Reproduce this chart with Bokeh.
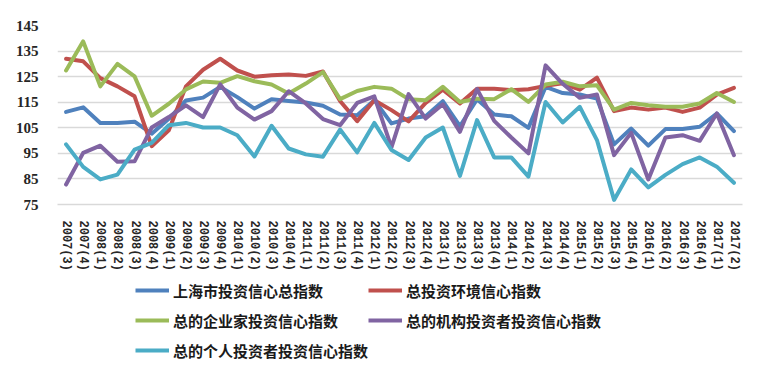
from bokeh.plotting import figure
from bokeh.layouts import column
from bokeh.models import FactorRange, Range1d, FixedTicker, Legend, LegendItem
from bokeh.embed import file_html
from bokeh.resources import INLINE

quarters = ["2007(3)", "2007(4)", "2008(1)", "2008(2)", "2008(3)", "2008(4)",
            "2009(1)", "2009(2)", "2009(3)", "2009(4)", "2010(1)", "2010(2)",
            "2010(3)", "2010(4)", "2011(1)", "2011(2)", "2011(3)", "2011(4)",
            "2012(1)", "2012(2)", "2012(3)", "2012(4)", "2013(1)", "2013(2)",
            "2013(3)", "2013(4)", "2014(1)", "2014(2)", "2014(3)", "2014(4)",
            "2015(1)", "2015(2)", "2015(3)", "2015(4)", "2016(1)", "2016(2)",
            "2016(3)", "2016(4)", "2017(1)", "2017(2)"]

shanghai_total = [111.2, 113.0, 106.9, 106.9, 107.4, 102.7, 108.5, 115.7, 116.8, 121.0,
                  117.0, 112.5, 116.2, 115.5, 114.9, 113.6, 110.2, 109.9, 115.8, 106.7,
                  108.6, 109.5, 115.4, 105.6, 116.2, 110.2, 109.5, 105.0, 121.0, 118.6,
                  118.0, 116.4, 98.5, 104.7, 98.0, 104.5, 104.5, 105.4, 110.6, 103.7]
environment = [132.0, 131.0, 124.4, 121.2, 117.3, 97.8, 104.0, 121.2, 127.7, 132.0,
               127.4, 125.0, 125.5, 125.8, 125.3, 127.0, 115.5, 107.6, 115.8, 111.9,
               107.5, 114.7, 119.9, 114.5, 120.3, 120.3, 119.7, 120.1, 121.4, 122.4,
               119.9, 124.6, 111.5, 112.9, 112.1, 112.9, 111.2, 112.9, 118.0, 120.6]
entrepreneur = [127.4, 138.8, 121.2, 130.0, 125.1, 109.7, 114.4, 120.0, 123.1, 122.6,
                125.2, 123.2, 121.9, 118.4, 122.3, 126.8, 116.2, 119.4, 121.0, 120.3,
                116.2, 115.8, 121.0, 115.1, 116.4, 116.2, 120.1, 115.1, 121.9, 123.0,
                121.2, 121.6, 112.1, 114.7, 113.8, 113.2, 113.2, 114.5, 118.6, 115.1]
institution = [82.8, 95.2, 98.0, 91.7, 91.9, 105.1, 109.2, 113.8, 109.2, 122.0,
               112.9, 108.2, 111.5, 119.3, 114.5, 108.4, 106.0, 114.7, 117.3, 97.3,
               118.2, 108.6, 114.2, 103.4, 120.1, 107.7, 101.2, 95.0, 129.4, 122.2,
               116.7, 118.0, 94.3, 103.0, 84.8, 101.2, 102.1, 99.9, 110.6, 94.3]
individual = [98.5, 89.7, 84.8, 86.7, 96.5, 99.1, 106.0, 106.9, 105.1, 105.1,
              102.1, 93.8, 105.8, 96.9, 94.6, 93.7, 104.3, 95.4, 106.9, 96.3,
              92.4, 101.2, 105.1, 86.2, 108.0, 93.4, 93.4, 85.9, 115.1, 107.1,
              113.2, 100.2, 76.8, 88.7, 81.7, 86.6, 90.8, 93.4, 89.8, 83.5]

names = ["上海市投资信心总指数", "总投资环境信心指数", "总的企业家投资信心指数",
         "总的机构投资者投资信心指数", "总的个人投资者投资信心指数"]
y_ticks = [75, 85, 95, 105, 115, 125, 135, 145]

series = [shanghai_total, environment, entrepreneur, institution, individual]
colors = ["#4F81BD", "#C0504D", "#9BBB59", "#8064A2", "#4BACC6"]

p = figure(x_range=FactorRange(*quarters), y_range=Range1d(75, 145),
           frame_width=685, frame_height=179, width=761, height=270,
           min_border_left=57, min_border_right=19, min_border_top=25, min_border_bottom=0,
           output_backend="svg", toolbar_location=None, outline_line_color=None)

for vals, c in zip(series, colors):
    p.line(quarters, vals, line_color=c, line_width=4, line_join="round", line_cap="round")

p.xgrid.grid_line_color = None
p.ygrid.grid_line_color = "#D9D9D9"
p.ygrid.grid_line_width = 1.5
p.yaxis.ticker = FixedTicker(ticks=y_ticks)
p.yaxis.axis_line_color = None
p.yaxis.major_tick_line_color = None
p.yaxis.minor_tick_line_color = None
p.yaxis.major_label_standoff = 13
p.yaxis.major_label_text_font = "Liberation Serif"
p.yaxis.major_label_text_font_style = "bold"
p.yaxis.major_label_text_font_size = "15px"
p.yaxis.major_label_text_color = "#262626"

p.xaxis.axis_line_color = "#D9D9D9"
p.xaxis.axis_line_width = 1.5
p.xaxis.major_tick_line_color = None
p.xaxis.minor_tick_line_color = None
p.xaxis.major_label_orientation = "vertical"
p.xaxis.major_label_standoff = 10
p.xaxis.major_label_text_font = "Liberation Mono"
p.xaxis.major_label_text_font_style = "bold"
p.xaxis.major_label_text_font_size = "12px"
p.xaxis.major_label_text_color = "#262626"

# legend-only figure below the chart; keys are off-screen single points
q = figure(x_range=Range1d(0, 1), y_range=Range1d(0, 1), width=761, height=110,
           min_border=0, output_backend="svg", toolbar_location=None, outline_line_color=None)
q.axis.visible = False
q.grid.grid_line_color = None
keys = [q.line([-1], [-1], line_color=c, line_width=4) for c in colors]

def make_legend(idx, loc):
    return Legend(items=[LegendItem(label=names[i], renderers=[keys[i]]) for i in idx],
                  location=loc, orientation="vertical", padding=0, margin=0, spacing=0,
                  glyph_width=34, glyph_height=30, label_height=30, label_standoff=4,
                  border_line_color=None, background_fill_alpha=0,
                  label_text_font="Noto Sans CJK SC", label_text_font_style="bold",
                  label_text_font_size="15px", label_text_color="#1a1a1a")

q.add_layout(make_legend([0, 2, 4], (78, 18)), "center")
q.add_layout(make_legend([1, 3], (311, 48)), "center")

open("out.html", "w").write(file_html(column(p, q, spacing=0), INLINE))
